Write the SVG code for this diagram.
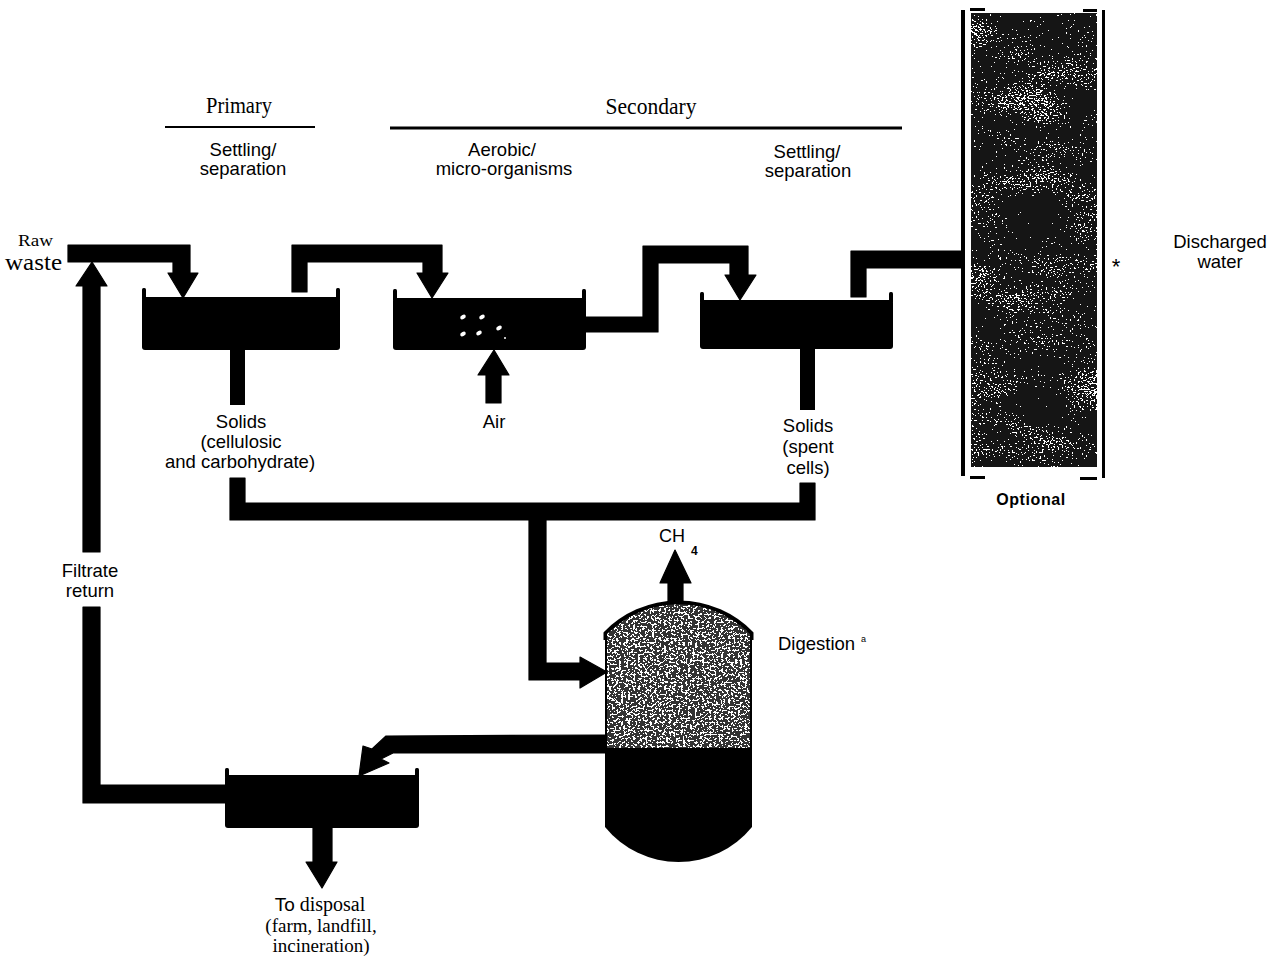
<svg xmlns="http://www.w3.org/2000/svg" width="1277" height="958" viewBox="0 0 1277 958">
<style>
.sans{font-family:"Liberation Sans",Arial,sans-serif;fill:#000}
.serif{font-family:"Liberation Serif","Times New Roman",serif;fill:#000}
.pipe{fill:#000;stroke:#000;stroke-width:1.2;stroke-linejoin:round}
.tank{fill:#000}
.lbl{font-size:18.5px}
</style>
<defs>
<filter id="texDark" x="0" y="0" width="1" height="1" color-interpolation-filters="sRGB">
<feTurbulence type="fractalNoise" baseFrequency="0.5 0.65" numOctaves="2" seed="7" result="n1"/>
<feTurbulence type="fractalNoise" baseFrequency="0.015 0.035" numOctaves="2" seed="3" result="n2"/>
<feComposite in="n1" in2="n2" operator="arithmetic" k1="0" k2="0.8" k3="0.4" k4="-0.1" result="n"/>
<feColorMatrix in="n" type="matrix" values="0 0 0 0 1  0 0 0 0 1  0 0 0 0 1  1 0 0 0 0" result="wa"/>
<feComponentTransfer in="wa" result="speck"><feFuncA type="discrete" tableValues="0 0 0 0 0 0 0 0 0 0 0 1 1 1 1 1 1 1 1 1"/></feComponentTransfer>
<feComposite in="speck" in2="SourceGraphic" operator="atop"/>
</filter>
<filter id="texGray" x="0" y="0" width="1" height="1" color-interpolation-filters="sRGB">
<feTurbulence type="fractalNoise" baseFrequency="0.42 0.5" numOctaves="2" seed="11" result="n1"/>
<feColorMatrix in="n1" type="matrix" values="0 0 0 0 1  0 0 0 0 1  0 0 0 0 1  1 0 0 0 0" result="wa"/>
<feComponentTransfer in="wa" result="speck"><feFuncA type="discrete" tableValues="0 0 0 0 0 0 0 0 0 0 0 1 1 1 1 1 1 1 1 1"/></feComponentTransfer>
<feComposite in="speck" in2="SourceGraphic" operator="atop"/>
</filter>
</defs>
<rect width="1277" height="958" fill="#fff"/>

<g id="headers">
<text class="serif" x="239" y="113" font-size="23" text-anchor="middle" textLength="66" lengthAdjust="spacingAndGlyphs">Primary</text>
<line x1="165" y1="127" x2="315" y2="127" stroke="#000" stroke-width="2"/>
<text class="serif" x="651" y="114" font-size="24" text-anchor="middle" textLength="91" lengthAdjust="spacingAndGlyphs">Secondary</text>
<line x1="390" y1="128" x2="902" y2="128" stroke="#000" stroke-width="3"/>
</g>

<g id="node-primary-settling">
<text class="sans lbl" x="243" y="156" text-anchor="middle">Settling/</text>
<text class="sans lbl" x="243" y="175" text-anchor="middle">separation</text>
<rect class="tank" x="142" y="297" width="198" height="53" rx="3"/>
<rect class="tank" x="142" y="288" width="4" height="12" rx="1.5"/>
<rect class="tank" x="336" y="288" width="4" height="12" rx="1.5"/>
</g>

<g id="node-aeration">
<text class="sans lbl" x="502" y="156" text-anchor="middle">Aerobic/</text>
<text class="sans lbl" x="504" y="175" text-anchor="middle">micro-organisms</text>
<rect class="tank" x="393" y="298" width="193" height="52" rx="3"/>
<rect class="tank" x="393" y="289" width="4" height="12" rx="1.5"/>
<rect class="tank" x="582" y="289" width="4" height="12" rx="1.5"/>
<g fill="#fff">
<ellipse cx="463" cy="317" rx="3" ry="2" transform="rotate(-30 463 317)"/>
<ellipse cx="482" cy="317" rx="3" ry="2" transform="rotate(-30 482 317)"/>
<ellipse cx="463" cy="334" rx="3" ry="2" transform="rotate(-30 463 334)"/>
<ellipse cx="479" cy="333" rx="3" ry="2" transform="rotate(-30 479 333)"/>
<ellipse cx="499" cy="328" rx="3" ry="2" transform="rotate(-30 499 328)"/>
<circle cx="505" cy="338" r="1"/>
</g>
</g>

<g id="node-secondary-settling">
<text class="sans lbl" x="807" y="158" text-anchor="middle">Settling/</text>
<text class="sans lbl" x="808" y="177" text-anchor="middle">separation</text>
<rect class="tank" x="700" y="300" width="193" height="49" rx="3"/>
<rect class="tank" x="700" y="292" width="4" height="11" rx="1.5"/>
<rect class="tank" x="889" y="292" width="4" height="11" rx="1.5"/>
</g>

<g id="node-optional">
<rect x="971" y="13" width="126" height="454" fill="#151515" filter="url(#texDark)"/>
<rect x="961" y="10" width="4" height="466" fill="#000"/>
<rect x="1102" y="10" width="3" height="468" fill="#000"/>
<rect x="970" y="8" width="15" height="3" fill="#000"/>
<rect x="1083" y="9" width="14" height="3" fill="#000"/>
<rect x="970" y="476" width="15" height="3" fill="#000"/>
<rect x="1080" y="477" width="17" height="3" fill="#000"/>
<text class="sans" x="1031" y="505" font-size="16" font-weight="bold" text-anchor="middle" letter-spacing="0.6">Optional</text>
<text class="sans" x="1116" y="274" font-size="22" text-anchor="middle">*</text>
</g>

<g id="node-discharged">
<text class="sans lbl" x="1220" y="248" text-anchor="middle">Discharged</text>
<text class="sans lbl" x="1220" y="268" text-anchor="middle">water</text>
</g>

<g id="node-raw-waste">
<text class="serif" x="18" y="246" font-size="16" textLength="35" lengthAdjust="spacingAndGlyphs">Raw</text>
<text class="serif" x="5" y="270" font-size="24" textLength="57" lengthAdjust="spacingAndGlyphs">waste</text>
</g>

<g id="node-digester">
<path d="M605,633 A102.6,102.6 0 0 1 752,633 V827 A94.7,94.7 0 0 1 605,827 Z" fill="#000"/>
<path d="M607,634 A101,101 0 0 1 750,634 V748 H607 Z" fill="#333" filter="url(#texGray)"/>
<path d="M605,640 V633 A102.6,102.6 0 0 1 752,633 V640" fill="none" stroke="#000" stroke-width="3"/>
<line x1="606" y1="633" x2="606" y2="750" stroke="#000" stroke-width="2"/>
<line x1="751" y1="633" x2="751" y2="750" stroke="#000" stroke-width="2"/>
<text class="sans lbl" x="778" y="650">Digestion</text>
<text class="sans" x="861" y="642" font-size="9">a</text>
<text class="sans" x="672" y="542" font-size="18" text-anchor="middle">CH</text>
<text class="sans" x="691" y="555" font-size="12" font-weight="bold">4</text>
</g>

<g id="node-filter">
<rect class="tank" x="225" y="775" width="194" height="53" rx="3"/>
<rect class="tank" x="225" y="768" width="4" height="10" rx="1.5"/>
<rect class="tank" x="415" y="768" width="4" height="10" rx="1.5"/>
</g>

<g id="labels">
<text class="sans lbl" x="241" y="428" text-anchor="middle">Solids</text>
<text class="sans lbl" x="241" y="448" text-anchor="middle">(cellulosic</text>
<text class="sans lbl" x="240" y="468" text-anchor="middle">and carbohydrate)</text>
<text class="sans lbl" x="494" y="428" text-anchor="middle">Air</text>
<text class="sans lbl" x="808" y="432" text-anchor="middle">Solids</text>
<text class="sans lbl" x="808" y="453" text-anchor="middle">(spent</text>
<text class="sans lbl" x="808" y="474" text-anchor="middle">cells)</text>
<text class="sans lbl" x="90" y="577" text-anchor="middle">Filtrate</text>
<text class="sans lbl" x="90" y="597" text-anchor="middle">return</text>
<text x="320" y="911" text-anchor="middle"><tspan class="sans" font-size="19">To</tspan><tspan class="serif" font-size="20"> disposal</tspan></text>
<text class="serif" x="321" y="932" font-size="19" text-anchor="middle">(farm,  landfill,</text>
<text class="serif" x="321" y="952" font-size="19" text-anchor="middle">incineration)</text>
</g>

<g id="connectors">
<polygon class="pipe" points="68,245 190,245 190,273 198,273 183,298 168,273 173,273 173,262 68,262"/>
<polygon class="pipe" points="292,292 292,245 442,245 442,273 448,273 432,298 417,273 423,273 423,262 307,262 307,292"/>
<polygon class="pipe" points="586,317 643,317 643,246 748,246 748,275 756,275 740,300 725,275 730,275 730,263 658,263 658,332 586,332"/>
<polygon class="pipe" points="851,297 851,251 961,251 961,268 866,268 866,297"/>
<polygon class="pipe" points="486,403 486,375 478,375 494,350 509,375 501,375 501,403"/>
<rect x="230" y="349" width="15" height="56" fill="#000"/>
<rect x="800" y="348" width="15" height="62" fill="#000"/>
<polygon class="pipe" points="230,478 245,478 245,503 800,503 800,483 815,483 815,520 546,520 546,663 580,663 580,657 607,672 580,688 580,680 529,680 529,520 230,520"/>
<polygon class="pipe" points="668,603 668,583 660,583 675,550 691,583 683,583 683,603"/>
<polygon class="pipe" points="606,735 386,736 372,749 363,746 359,776 389,763 381,759 393,753 606,753"/>
<polygon class="pipe" points="225,785 100,785 100,607 83,607 83,803 225,803"/>
<polygon class="pipe" points="83,552 83,286 76,286 92,262 107,286 100,286 100,552"/>
<polygon class="pipe" points="313,827 313,862 306,862 322,888 337,862 332,862 332,827"/>
</g>
</svg>
